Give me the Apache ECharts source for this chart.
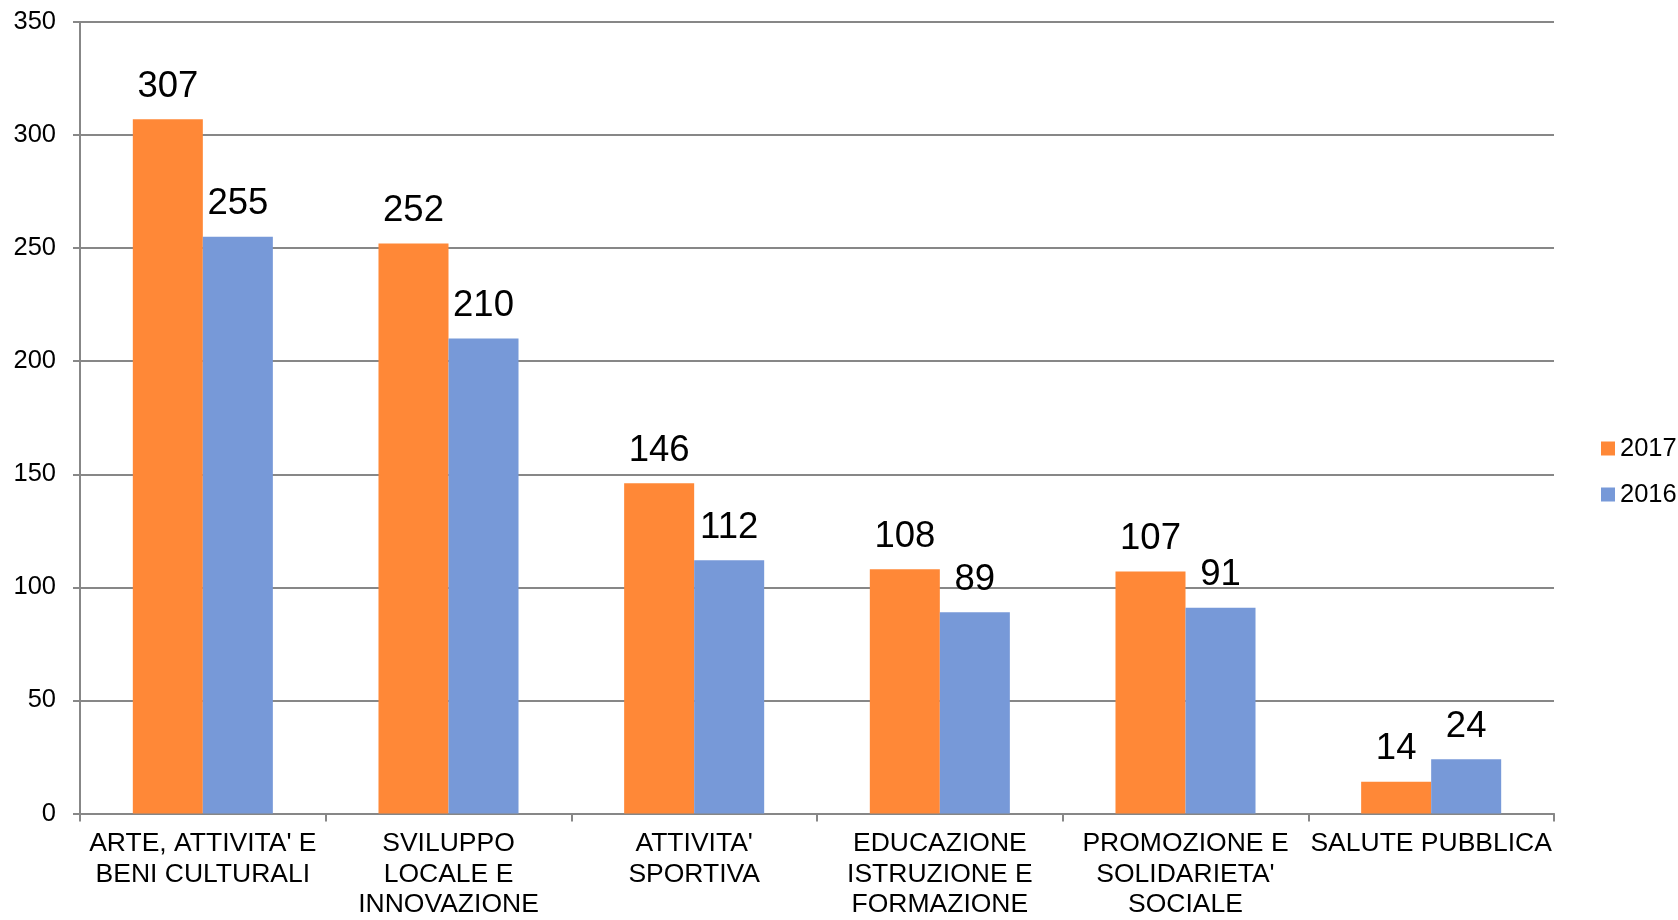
<!DOCTYPE html>
<html>
<head>
<meta charset="utf-8">
<script src="https://cdn.jsdelivr.net/npm/echarts@6/dist/echarts.min.js"></script>
<style>
html,body{margin:0;padding:0;background:#fff;}
#chart{width:1678px;height:920px;}
</style>
</head>
<body>
<div id="chart"></div>
<script>
const categories = [
  "ARTE, ATTIVITA' E\nBENI CULTURALI",
  "SVILUPPO\nLOCALE E\nINNOVAZIONE",
  "ATTIVITA'\nSPORTIVA",
  "EDUCAZIONE\nISTRUZIONE E\nFORMAZIONE",
  "PROMOZIONE E\nSOLIDARIETA'\nSOCIALE",
  "SALUTE PUBBLICA"
];
const seriesNames = ["2017", "2016"];
const values2017 = [307, 252, 146, 108, 107, 14];
const values2016 = [255, 210, 112, 89, 91, 24];
const yTicks = { min: 0, max: 350, interval: 50 };

const FONT = '"Liberation Sans", Arial, sans-serif';
const GRAY = '#878787';
const chart = echarts.init(document.getElementById('chart'));
chart.setOption({
  animation: false,
  textStyle: { fontFamily: FONT, color: '#000' },
  grid: { left: 80, right: 124, top: 22, bottom: 102, containLabel: false },
  legend: {
    orient: 'vertical',
    left: 1596,
    top: 430,
    itemWidth: 14,
    itemHeight: 14,
    itemGap: 19,
    icon: 'rect',
    textStyle: { fontFamily: FONT, fontSize: 25.5, lineHeight: 27, color: '#000' },
    data: seriesNames
  },
  xAxis: {
    type: 'category',
    data: categories,
    axisLine: { show: true, lineStyle: { color: GRAY, width: 2 } },
    axisTick: { show: true, length: 8, lineStyle: { color: GRAY, width: 2 } },
    axisLabel: { fontFamily: FONT, fontSize: 26.5, lineHeight: 30.5, color: '#000', margin: 15, interval: 0 }
  },
  yAxis: {
    type: 'value',
    min: yTicks.min,
    max: yTicks.max,
    interval: yTicks.interval,
    axisLine: { show: true, lineStyle: { color: GRAY, width: 2 } },
    axisTick: { show: true, length: 7, lineStyle: { color: GRAY, width: 2 } },
    splitLine: { show: true, lineStyle: { color: GRAY, width: 2 } },
    axisLabel: { fontFamily: FONT, fontSize: 25.5, color: '#000', margin: 24 }
  },
  series: [
    {
      name: seriesNames[0],
      type: 'bar',
      data: values2017,
      barGap: '0%',
      barCategoryGap: '43%',
      itemStyle: { color: '#FF8837' },
      label: { show: true, position: 'top', distance: 14, fontFamily: FONT, fontSize: 36.5, color: '#000' }
    },
    {
      name: seriesNames[1],
      type: 'bar',
      data: values2016,
      barGap: '0%',
      barCategoryGap: '43%',
      itemStyle: { color: '#7799D8' },
      label: { show: true, position: 'top', distance: 14, fontFamily: FONT, fontSize: 36.5, color: '#000' }
    }
  ]
});
</script>
</body>
</html>
